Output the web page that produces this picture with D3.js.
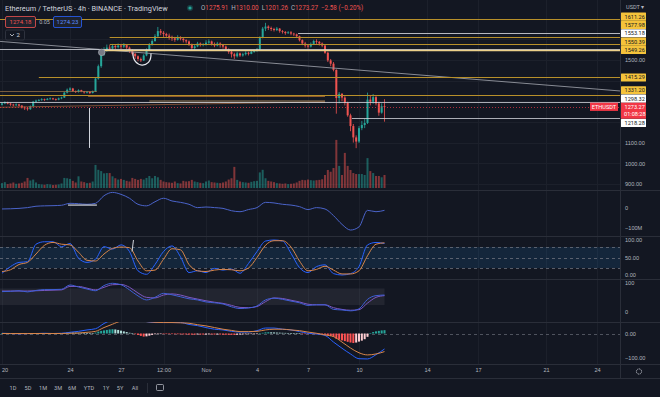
<!DOCTYPE html>
<html>
<head>
<meta charset="utf-8">
<script src="https://cdnjs.cloudflare.com/ajax/libs/d3/7.8.5/d3.min.js"></script>
<style>
  body { margin: 0; background-color: #131722; }
  svg { display: block; font-family: Roboto, "Noto Sans", sans-serif; }
  text { fill: #b2b5be; }
</style>
</head>
<body>
<svg id="canvas" width="660" height="397"></svg>
<script>
  // ETHUSDT 4h candles from Oct 20 2022 00:00 UTC, open of the first bar, then closes / highs / lows / volume (k ETH)
  const firstOpen = 1283;
  const closes = [
    1290, 1296, 1289, 1284, 1281, 1285,  1279, 1270, 1266, 1262, 1276, 1298,
    1303, 1306, 1310, 1307, 1312, 1314,  1311, 1308, 1314, 1318, 1342, 1356,
    1362, 1350, 1346, 1354, 1348, 1343,  1346, 1340, 1348, 1410, 1470, 1528,
    1548, 1560, 1555, 1568, 1562, 1570,  1565, 1572, 1560, 1548, 1530, 1518,
    1505, 1498, 1522, 1550, 1575, 1592,  1615, 1640, 1632, 1626, 1618, 1612,
    1605, 1598, 1610, 1603, 1596, 1590,  1575, 1558, 1566, 1580, 1572, 1576,
    1584, 1590, 1578, 1570, 1580, 1572,  1565, 1552, 1540, 1528, 1518, 1532,
    1522, 1528, 1535, 1530, 1540, 1545,  1552, 1610, 1652, 1662, 1655, 1650,
    1645, 1652, 1640, 1636, 1630, 1634,  1628, 1624, 1615, 1596, 1580, 1570,
    1565, 1578, 1592, 1588, 1580, 1570,  1535, 1498, 1482, 1452, 1316, 1336,
    1318, 1292, 1232, 1180, 1125, 1105,  1170, 1185, 1195, 1308, 1298, 1320,
    1290, 1245, 1275.91, 1273.27
  ];
  const highs = [
    1294, 1300, 1298, 1292, 1288, 1290,  1288, 1282, 1275, 1272, 1280, 1302,
    1308, 1311, 1315, 1313, 1316, 1319,  1317, 1314, 1318, 1322, 1345, 1362,
    1368, 1365, 1352, 1358, 1356, 1350,  1350, 1348, 1352, 1415, 1478, 1540,
    1562, 1575, 1572, 1578, 1575, 1580,  1578, 1582, 1576, 1565, 1552, 1535,
    1522, 1512, 1528, 1556, 1582, 1600,  1625, 1660, 1650, 1640, 1632, 1628,
    1618, 1612, 1620, 1615, 1608, 1600,  1595, 1580, 1575, 1588, 1585, 1582,
    1596, 1600, 1594, 1585, 1588, 1586,  1578, 1570, 1556, 1545, 1535, 1540,
    1536, 1535, 1542, 1540, 1546, 1550,  1558, 1615, 1660, 1680, 1668, 1662,
    1656, 1660, 1655, 1645, 1640, 1640,  1640, 1632, 1628, 1618, 1600, 1588,
    1575, 1585, 1598, 1600, 1592, 1585,  1575, 1540, 1505, 1490, 1455, 1345,
    1340, 1325, 1298, 1240, 1190, 1135,  1180, 1205, 1215, 1342, 1330, 1335,
    1330, 1298, 1290, 1310
  ];
  const lows = [
    1279, 1286, 1285, 1278, 1275, 1277,  1274, 1265, 1258, 1255, 1258, 1273,
    1294, 1300, 1302, 1302, 1305, 1308,  1306, 1303, 1305, 1310, 1316, 1338,
    1350, 1345, 1340, 1342, 1344, 1337,  1338, 1335, 1338, 1346, 1405, 1462,
    1520, 1540, 1545, 1550, 1552, 1556,  1552, 1558, 1552, 1535, 1522, 1505,
    1494, 1490, 1495, 1518, 1545, 1570,  1588, 1610, 1620, 1612, 1606, 1598,
    1592, 1588, 1594, 1595, 1585, 1580,  1568, 1548, 1550, 1562, 1565, 1566,
    1570, 1578, 1570, 1562, 1566, 1560,  1555, 1545, 1530, 1512, 1505, 1512,
    1515, 1516, 1522, 1522, 1528, 1535,  1540, 1548, 1605, 1640, 1645, 1640,
    1638, 1640, 1632, 1628, 1622, 1626,  1620, 1616, 1606, 1590, 1572, 1560,
    1555, 1560, 1575, 1578, 1570, 1562,  1530, 1490, 1470, 1445, 1240, 1290,
    1300, 1280, 1225, 1155, 1100, 1073,  1098, 1160, 1170, 1190, 1280, 1288,
    1280, 1230, 1240, 1201.26
  ];
  const volumes = [
    150, 180, 120, 140, 170, 130,  140, 160, 200, 310, 230, 260,
    170, 120, 110, 100, 120, 110,   90, 100, 110, 140, 310, 300,
    280, 220, 170, 360, 200, 180,  150, 160, 200, 710, 560, 520,
    450, 460, 460, 360, 300, 260,  280, 250, 220, 200, 310, 280,
    250, 280, 260, 310, 370, 300,  370, 330, 250, 200, 180, 170,
    160, 200, 150, 140, 220, 200,  210, 250, 200, 180, 160, 150,
    200, 230, 180, 170, 160, 150,  170, 200, 260, 300, 650, 250,
    200, 180, 170, 160, 190, 210,  220, 480, 560, 300, 220, 200,
    180, 150, 140, 130, 140, 120,  130, 140, 170, 220, 250, 240,
    260, 240, 230, 240, 250, 270,  400, 555, 500, 615, 1480, 680,
    400, 1080, 680, 555, 460, 430, 430, 430, 400, 920, 520, 460,
    370, 370, 330, 400
  ];

  // MACD histogram, one value per candle
  const macdHist = [
    0.4, 0.6, 0.4, 0.1, -0.3, -0.4,  -0.8, -1.2, -1.6, -2, -1.4, 0.2,
    1, 1.6, 2, 1.8, 1.6, 1.4,  1, 0.6, 0.5, 0.6, 2.2, 3.8,
    4.6, 4, 3.4, 3.2, 2.6, 1.8,  1.2, 0.5, 0.4, 4, 8, 11,
    13, 15, 17, 18, 17, 15,  12, 9, 6, 3, 0.5, -3,
    -6, -10, -13, -12, -9, -6,  -3, -1, -0.5, -0.8, -1.5, -2,
    -2.5, -3, -3, -3.5, -4, -4,  -4.5, -5, -5, -4.5, -4.5, -4.6,
    -4.5, -4, -4, -4.5, -4.2, -4.4,  -4.8, -5.2, -5.5, -5.8, -6, -5.6,
    -4.5, -3.8, -3.2, -2.6, -2.2, -1.6,  -1, 0.5, 3, 5, 5.5, 5,
    4.5, 4, 3.5, 3, 2.6, 2.2,  1.8, 1.4, 1, 0.4, -0.5, -1.5,
    -2, -2.5, -2.5, -2.8, -3.2, -3.5,  -5, -8, -11, -14, -22, -26,
    -29, -32, -35, -38, -40, -38,  -34, -30, -24, -14, 2, 6,
    9, 11, 13, 14
  ];

  // indicator lines, one value every 3 candles (12h)
  const obv = [-5, -4, -2, 2, 9, 11, 12, 14, 24, 22, 19, 24, 63, 80, 70, 50, 19, 11, 32, 50, 36, 29, 19,
    2, 5, 2, -2, -14, -19, -8, 2, 29, 26, 19, 15, 7, -8, 2, -5, -39, -84, -113, -97, -12, -19, -12];
  const stochK = [5, 24, 36, 38, 88, 95, 95, 81, 90, 48, 36, 45, 81, 74, 86, 67, 12, 2, 30, 67, 83, 52, 7,
    12, 7, 19, 14, 17, 5, 33, 67, 97, 100, 97, 62, 21, 7, 24, 29, 4, 0, 4, 24, 86, 93, 90];
  const stochD = [10, 15, 30, 36, 60, 85, 93, 88, 86, 65, 42, 40, 60, 76, 80, 78, 40, 12, 14, 45, 75, 72, 30,
    12, 10, 14, 16, 15, 12, 20, 50, 85, 98, 98, 80, 40, 12, 16, 25, 14, 3, 3, 12, 55, 88, 92];
  const rsi = [70, 71, 73, 69, 74, 77, 77, 78, 93, 86, 79, 73, 91, 99, 94, 76, 55, 41, 50, 64, 59, 52, 45,
    41, 34, 31, 27, 17, 11, 13, 20, 41, 47, 43, 37, 31, 22, 24, 24, 8, 6, 3, 10, 43, 56, 58];
  const rsiMa = [72, 72, 72, 72, 73, 74, 75, 76, 88, 88, 82, 76, 85, 94, 95, 85, 65, 50, 48, 58, 62, 58, 50,
    44, 38, 33, 29, 22, 15, 14, 18, 35, 48, 46, 40, 34, 26, 24, 24, 14, 8, 5, 7, 30, 50, 56];
  const macd = [1, 0, -1, 0, 0, 1, 0, 1, 5, 9, 15, 20, 42, 58, 64, 64, 56, 50, 46, 46, 46, 46, 38,
    33, 25, 18, 15, 9, 6, 6, 12, 23, 23, 18, 15, 8, 1, -2, -8, -36, -62, -86, -106, -107, -89, -65];
  const macdSignal = [0, 0, 0, 0, 0, 0, 0, 0, 1, 2, 5, 9, 25, 39, 52, 55, 55, 50, 47, 46, 46, 45, 43,
    37, 32, 25, 18, 13, 8, 8, 9, 15, 18, 18, 15, 12, 6, 1, -6, -13, -36, -61, -81, -90, -86, -76];

  // horizontal price levels with axis labels; line starts as candle index
  const levelPrices = [1611.26, 1577.98, 1553.18, 1550.39, 1549.26, 1415.29, 1331.20, 1298.32, 1218.28];
  const levelStarts = [38, 38, -1, 38, 35, 13, -1, -1, 123.5];
  const whiteLevels = [1553.18, 1298.32, 1218.28];

  // unlabelled drawings: [candle0, price0, candle1, price1]
  const drawings = [
    [-1, 1698.5, 220, 1698.5],
    [104.5, 1629, 220, 1629],
    [-0.7, 1590, 218, 1350],
    [-0.7, 1350, 33.5, 1350],
    [30.4, 1326, 114, 1326],
    [-0.7, 1271, 114, 1297],
    [52, 1299, 114, 1299]
  ];

  const tickDates = [[9, 20], [9, 24], [9, 27], [9, 29, 12], [10, 1], [10, 4], [10, 7], [10, 10],
    [10, 14], [10, 17], [10, 21], [10, 24]].map(d => new Date(Date.UTC(2022, d[0], d[1], d[2] || 0)));
  const tickLabels = ["20", "24", "27", "12:00", "Nov", "4", "7", "10", "14", "17", "21", "24"];
  const rangeButtons = ["1D", "5D", "1M", "3M", "6M", "YTD", "1Y", "5Y", "All"];

  const svg = d3.select("svg");
  const plotRight = 620;
  const up = "#26a69a", down = "#ef5350";
  const gold = "#b8902a", cream = "#ecd08a";
  const t0 = Date.UTC(2022, 9, 20);
  const candleTime = i => new Date(t0 + i * 4 * 3600e3);
  const crisp = v => Math.round(v) + 0.5;

  const x = d3.scaleUtc()
      .domain([new Date(t0), new Date(Date.UTC(2022, 10, 25))])
      .range([2, 2 + 36 * 17]);
  const yPrice = d3.scaleLinear().domain([880, 1790.6]).range([188, 0]);
  const yVol = d3.scaleLinear().domain([0, 1600]).range([188, 136]);
  const yObv = d3.scaleLinear().domain([-100, 0]).range([227.5, 208]);
  const yStoch = d3.scaleLinear().domain([0, 100]).range([275, 240]);
  const yRsi = d3.scaleLinear().domain([0, 100]).range([311.7, 283]);
  const yMacd = d3.scaleLinear().domain([-100, 0]).range([357.3, 333.5]);

  const panels = [[0, 190], [190, 236], [236, 279], [279, 322], [322, 364]];

  const defs = svg.append("defs");
  panels.forEach((p, i) => {
    defs.append("clipPath").attr("id", "clip" + i)
      .append("rect").attr("x", 0).attr("y", p[0]).attr("width", plotRight).attr("height", p[1] - p[0]);
  });

  svg.append("rect").attr("width", 660).attr("height", 397).attr("fill", "#131722");

  // grid
  const grid = svg.append("g").attr("stroke", "#1c202b").attr("stroke-width", 1);
  tickDates.forEach(d => {
    grid.append("line").attr("x1", crisp(x(d))).attr("x2", crisp(x(d))).attr("y1", 0).attr("y2", 364);
  });
  [900, 1000, 1100, 1200, 1300, 1400, 1500, 1600, 1700].forEach(p => {
    grid.append("line").attr("x1", 0).attr("x2", plotRight).attr("y1", crisp(yPrice(p))).attr("y2", crisp(yPrice(p)));
  });

  // separators
  const sep = svg.append("g").attr("stroke", "#2a2e39");
  panels.slice(1).forEach(p => sep.append("line").attr("x1", 0).attr("x2", 660).attr("y1", p[0] + 0.5).attr("y2", p[0] + 0.5));
  sep.append("line").attr("x1", 0).attr("x2", 660).attr("y1", 364.5).attr("y2", 364.5);
  sep.append("line").attr("x1", 0).attr("x2", 660).attr("y1", 378.5).attr("y2", 378.5);
  sep.append("line").attr("x1", plotRight + 0.5).attr("x2", plotRight + 0.5).attr("y1", 0).attr("y2", 378);

  const candles = closes.map((c, i) => ({
    t: candleTime(i),
    o: i === 0 ? firstOpen : closes[i - 1],
    h: highs[i], l: lows[i], c: c, v: volumes[i]
  }));

  // main pane
  const main = svg.append("g").attr("clip-path", "url(#clip0)");

  main.selectAll(".vol").data(candles).join("rect")
      .attr("x", d => x(d.t) - 1)
      .attr("width", 2)
      .attr("y", d => yVol(d.v))
      .attr("height", d => yVol(0) - yVol(d.v))
      .attr("fill", d => d.c >= d.o ? up : down)
      .attr("opacity", 0.5);

  main.selectAll(".wick").data(candles).join("line")
      .attr("x1", d => x(d.t)).attr("x2", d => x(d.t))
      .attr("y1", d => yPrice(d.h)).attr("y2", d => yPrice(d.l))
      .attr("stroke", d => d.c >= d.o ? up : down)
      .attr("stroke-width", 0.8);

  main.selectAll(".body").data(candles).join("rect")
      .attr("x", d => x(d.t) - 1)
      .attr("width", 2)
      .attr("y", d => yPrice(Math.max(d.o, d.c)))
      .attr("height", d => Math.max(0.8, Math.abs(yPrice(d.o) - yPrice(d.c))))
      .attr("fill", d => d.c >= d.o ? up : down);

  // drawings
  const drawColors = [gold, "#c8cad0", "#9598a1", "#a0784a", "#c47a32", "#a8643a", "#d2a86a"];
  const drawWidths = [1, 1, 1, 1, 1, 1, 3];
  const drawOpacity = [1, 0.9, 0.9, 0.7, 0.7, 0.7, 0.35];
  drawings.forEach((d, i) => {
    const flat = d[1] === d[3];
    main.append("line")
      .attr("x1", x(candleTime(d[0]))).attr("y1", flat ? crisp(yPrice(d[1])) : yPrice(d[1]))
      .attr("x2", d[2] >= 200 ? plotRight : x(candleTime(d[2])))
      .attr("y2", flat ? crisp(yPrice(d[3])) : yPrice(d[3]))
      .attr("stroke", drawColors[i]).attr("stroke-width", drawWidths[i]).attr("opacity", drawOpacity[i]);
  });

  levelPrices.forEach((p, i) => {
    const white = whiteLevels.includes(p);
    main.append("line")
      .attr("x1", x(candleTime(levelStarts[i]))).attr("x2", plotRight)
      .attr("y1", crisp(yPrice(p))).attr("y2", crisp(yPrice(p)))
      .attr("stroke", white ? "#d1d4dc" : (p > 1540 && p < 1560 ? cream : gold))
      .attr("stroke-width", p === 1549.26 ? 1.6 : 1)
      .attr("opacity", white ? 0.8 : 1);
  });

  const last = candles[candles.length - 1];
  main.append("line")
    .attr("x1", 0).attr("x2", plotRight)
    .attr("y1", crisp(yPrice(last.c))).attr("y2", crisp(yPrice(last.c)))
    .attr("stroke", "#f23645").attr("stroke-dasharray", "1,2").attr("opacity", 0.7);

  // annotations
  main.append("line")
    .attr("x1", crisp(x(candleTime(30.7)))).attr("x2", crisp(x(candleTime(30.7))))
    .attr("y1", yPrice(1268)).attr("y2", yPrice(1074))
    .attr("stroke", "#d1d4dc").attr("stroke-width", 1);
  main.append("path")
    .attr("d", () => {
      const cx = x(candleTime(49.4)), cy = yPrice(1502);
      return `M${cx - 9},${cy - 7} C${cx - 10},${cy + 9} ${cx + 10},${cy + 10} ${cx + 9},${cy - 6}`;
    })
    .attr("fill", "none").attr("stroke", "#e6e8ee").attr("stroke-width", 1.2);
  main.append("circle")
    .attr("cx", x(candleTime(35.2))).attr("cy", yPrice(1537)).attr("r", 3.3)
    .attr("fill", "#787b86").attr("stroke", "#b2b5be").attr("stroke-width", 0.6);

  // indicator panels
  const sampleX = (d, k) => x(candleTime(3 * k));
  const drawLine = (g, data, yScale, color, width) => g.append("path")
      .datum(data)
      .attr("d", d3.line().x(sampleX).y(d => yScale(d)).curve(d3.curveMonotoneX))
      .attr("fill", "none").attr("stroke", color).attr("stroke-width", width || 1);

  const pObv = svg.append("g").attr("clip-path", "url(#clip1)");
  drawLine(pObv, obv, yObv, "#4a63c9");
  pObv.append("line")
    .attr("x1", x(candleTime(23.3))).attr("x2", x(candleTime(33.5)))
    .attr("y1", yObv(15)).attr("y2", yObv(15))
    .attr("stroke", "#d1d4dc").attr("stroke-width", 1.2);

  const pStoch = svg.append("g").attr("clip-path", "url(#clip2)");
  pStoch.append("rect").attr("x", 0).attr("width", plotRight)
    .attr("y", yStoch(80)).attr("height", yStoch(20) - yStoch(80))
    .attr("fill", "#2196f3").attr("opacity", 0.12);
  [80, 50, 20].forEach(v => pStoch.append("line")
    .attr("x1", 0).attr("x2", plotRight).attr("y1", crisp(yStoch(v))).attr("y2", crisp(yStoch(v)))
    .attr("stroke", "#787b86").attr("stroke-dasharray", "3,3").attr("opacity", 0.7));
  drawLine(pStoch, stochK, yStoch, "#2962ff");
  drawLine(pStoch, stochD, yStoch, "#d8864a");
  pStoch.append("line")
    .attr("x1", x(candleTime(46.4))).attr("x2", x(candleTime(45.9)))
    .attr("y1", yStoch(100)).attr("y2", yStoch(67))
    .attr("stroke", "#d1d4dc");

  const pRsi = svg.append("g").attr("clip-path", "url(#clip3)");
  pRsi.append("rect").attr("x", 0).attr("width", x(last.t))
    .attr("y", yRsi(81)).attr("height", yRsi(23) - yRsi(81))
    .attr("fill", "#787b86").attr("opacity", 0.15);
  drawLine(pRsi, rsiMa, yRsi, "#7e57c2");
  drawLine(pRsi, rsi, yRsi, "#3f5fd6");

  const pMacd = svg.append("g").attr("clip-path", "url(#clip4)");
  pMacd.append("line")
    .attr("x1", 0).attr("x2", plotRight).attr("y1", crisp(yMacd(0))).attr("y2", crisp(yMacd(0)))
    .attr("stroke", "#787b86").attr("stroke-dasharray", "3,3").attr("opacity", 0.6);
  pMacd.selectAll(".hist").data(macdHist).join("rect")
      .attr("x", (d, i) => x(candleTime(i)) - 1)
      .attr("width", 2)
      .attr("y", d => Math.min(yMacd(d), yMacd(0)))
      .attr("height", d => Math.max(0.6, Math.abs(yMacd(d) - yMacd(0))))
      .attr("fill", (d, i) => {
        const prev = i > 0 ? macdHist[i - 1] : d;
        if (d >= 0) return d >= prev ? "#26a69a" : "#b2dfdb";
        return d <= prev ? "#ff5252" : "#ffcdd2";
      });
  drawLine(pMacd, macd, yMacd, "#2962ff");
  drawLine(pMacd, macdSignal, yMacd, "#d8864a");

  // price scale labels with stacking
  const labelH = 8.3;
  const curY = yPrice(last.c);
  const labels = levelPrices.map(p => ({ p: p, y: yPrice(p), ly: yPrice(p) }));
  let edge = curY - 4.1;
  labels.filter(d => d.y < curY).sort((a, b) => b.y - a.y).forEach(d => {
    d.ly = Math.min(d.y, edge - labelH / 2);
    edge = d.ly - labelH / 2;
  });
  edge = curY + 12;
  labels.filter(d => d.y > curY).sort((a, b) => a.y - b.y).forEach(d => {
    d.ly = Math.max(d.y, edge + labelH / 2);
    edge = d.ly + labelH / 2;
  });

  const axisFont = "5.6px";
  const priceTicks = d3.range(900, 1800, 100)
    .filter(p => labels.every(l => Math.abs(l.ly - yPrice(p)) > 8) && Math.abs(curY - yPrice(p)) > 14);
  svg.append("g")
      .attr("transform", `translate(${plotRight + 5},0)`)
      .call(d3.axisRight(yPrice).tickValues(priceTicks).tickSize(0).tickFormat(d3.format(".2f")));
  const panelAxes = [
    [yObv, [0, -100], d => d === 0 ? "0" : "\u2212100M"],
    [yStoch, [100, 50, 0], d3.format(".2f")],
    [yRsi, [100, 0], d3.format("d")],
    [yMacd, [0, -100], d => d3.format(".2f")(d).replace("-", "\u2212")]
  ];
  panelAxes.forEach(a => svg.append("g")
      .attr("transform", `translate(${plotRight + 5},0)`)
      .call(d3.axisRight(a[0]).tickValues(a[1]).tickSize(0).tickFormat(a[2])));
  svg.selectAll(".domain").remove();
  svg.selectAll(".tick text").attr("x", 0).style("font-size", axisFont).attr("fill", "#b2b5be");

  const lab = svg.append("g").style("font-size", axisFont);
  labels.forEach(d => {
    const white = whiteLevels.includes(d.p);
    lab.append("rect").attr("x", plotRight + 1).attr("y", d.ly - 4.1).attr("width", 25).attr("height", 8.2)
      .attr("fill", white ? "#ffffff" : "#f5c33b").attr("rx", 0.5);
    lab.append("text").attr("x", plotRight + 4.5).attr("y", d.ly + 2)
      .style("fill", "#131722").text(d3.format(".2f")(d.p));
  });
  lab.append("rect").attr("x", plotRight + 1).attr("y", curY - 4.1).attr("width", 25).attr("height", 16)
    .attr("fill", "#f23645");
  lab.append("text").attr("x", plotRight + 4.5).attr("y", curY + 2).style("fill", "#ffffff").text(d3.format(".2f")(last.c));
  lab.append("text").attr("x", plotRight + 4).attr("y", curY + 9).style("fill", "#ffffff").text("01:08:28");
  lab.append("rect").attr("x", 590).attr("y", curY - 4.1).attr("width", 28).attr("height", 8.2)
    .attr("fill", "#f23645");
  lab.append("text").attr("x", 604).attr("y", curY + 2).attr("text-anchor", "middle")
    .style("fill", "#ffffff").text("ETHUSDT");
  lab.append("text").attr("x", plotRight + 6).attr("y", 8.5).text("USDT \u25BE");

  // time axis
  const timeAxis = svg.append("g")
      .attr("transform", "translate(0,366)")
      .call(d3.axisBottom(x).tickValues(tickDates).tickSize(0).tickFormat((d, i) => tickLabels[i]));
  timeAxis.select(".domain").remove();
  timeAxis.selectAll("text").style("font-size", axisFont).attr("fill", "#b2b5be").attr("dy", "0.6em");
  timeAxis.selectAll(".tick").filter((d, i) => i === 0).select("text").attr("x", 2.5);

  // gear
  svg.append("circle").attr("cx", 639).attr("cy", 371.5).attr("r", 2.6)
    .attr("fill", "none").attr("stroke", "#b2b5be").attr("stroke-width", 1).attr("stroke-dasharray", "1.3,0.7");

  // bottom toolbar
  const bar = svg.append("g").style("font-size", axisFont);
  const buttonX = [13, 28, 43, 58, 72, 89, 106, 120, 135];
  rangeButtons.forEach((b, i) => bar.append("text").attr("x", buttonX[i]).attr("y", 390)
    .attr("text-anchor", "middle").attr("fill", "#b2b5be").text(b));
  bar.append("line").attr("x1", 147.5).attr("x2", 147.5).attr("y1", 383).attr("y2", 393).attr("stroke", "#2a2e39");
  bar.append("rect").attr("x", 156.5).attr("y", 384.5).attr("width", 7).attr("height", 6).attr("rx", 1)
    .attr("fill", "none").attr("stroke", "#b2b5be").attr("stroke-width", 0.8);

  // header
  const head = svg.append("g");
  head.append("text").attr("x", 5).attr("y", 10.5).style("font-size", "7.3px").style("fill", "#d1d4dc")
    .text("Ethereum / TetherUS \u00B7 4h \u00B7 BINANCE \u00B7 TradingView");
  head.append("circle").attr("cx", 190).attr("cy", 8).attr("r", 3).attr("fill", up).attr("opacity", 0.3);
  head.append("circle").attr("cx", 190).attr("cy", 8).attr("r", 1.6).attr("fill", up);
  const ohlc = head.append("text").attr("x", 201).attr("y", 10.3).style("font-size", "6.3px");
  [["O", "1275.91"], ["H", "1310.00"], ["L", "1201.26"], ["C", "1273.27"]].forEach((p, i) => {
    ohlc.append("tspan").attr("dx", i ? 3 : 0).style("fill", "#b2b5be").text(p[0]);
    ohlc.append("tspan").style("fill", down).text(p[1]);
  });
  ohlc.append("tspan").attr("dx", 3).style("fill", down).text("\u22122.58 (\u22120.20%)");

  head.append("rect").attr("x", 5.5).attr("y", 16.5).attr("width", 30).attr("height", 11).attr("rx", 1.5)
    .attr("fill", "#1e222d").attr("stroke", down).attr("stroke-width", 0.8);
  head.append("text").attr("x", 20.5).attr("y", 24.2).attr("text-anchor", "middle").style("font-size", "6px")
    .style("fill", down).text("1274.18");
  head.append("text").attr("x", 44.5).attr("y", 24.2).attr("text-anchor", "middle").style("font-size", "5.5px")
    .style("fill", "#b2b5be").text("0.05");
  head.append("rect").attr("x", 53.5).attr("y", 16.5).attr("width", 28).attr("height", 11).attr("rx", 1.5)
    .attr("fill", "#1e222d").attr("stroke", "#2962ff").attr("stroke-width", 0.8);
  head.append("text").attr("x", 67.5).attr("y", 24.2).attr("text-anchor", "middle").style("font-size", "6px")
    .style("fill", "#5b8cff").text("1274.23");
  head.append("rect").attr("x", 5.5).attr("y", 30).attr("width", 19).attr("height", 10).attr("rx", 1.5)
    .attr("fill", "#131722").attr("stroke", "#363a45").attr("stroke-width", 0.8);
  head.append("path").attr("d", "M10,34 L12,36 L14,34").attr("fill", "none").attr("stroke", "#d1d4dc").attr("stroke-width", 0.8);
  head.append("text").attr("x", 16.5).attr("y", 37.3).style("font-size", "6px").style("fill", "#d1d4dc").text("2");
</script>
</body>
</html>
